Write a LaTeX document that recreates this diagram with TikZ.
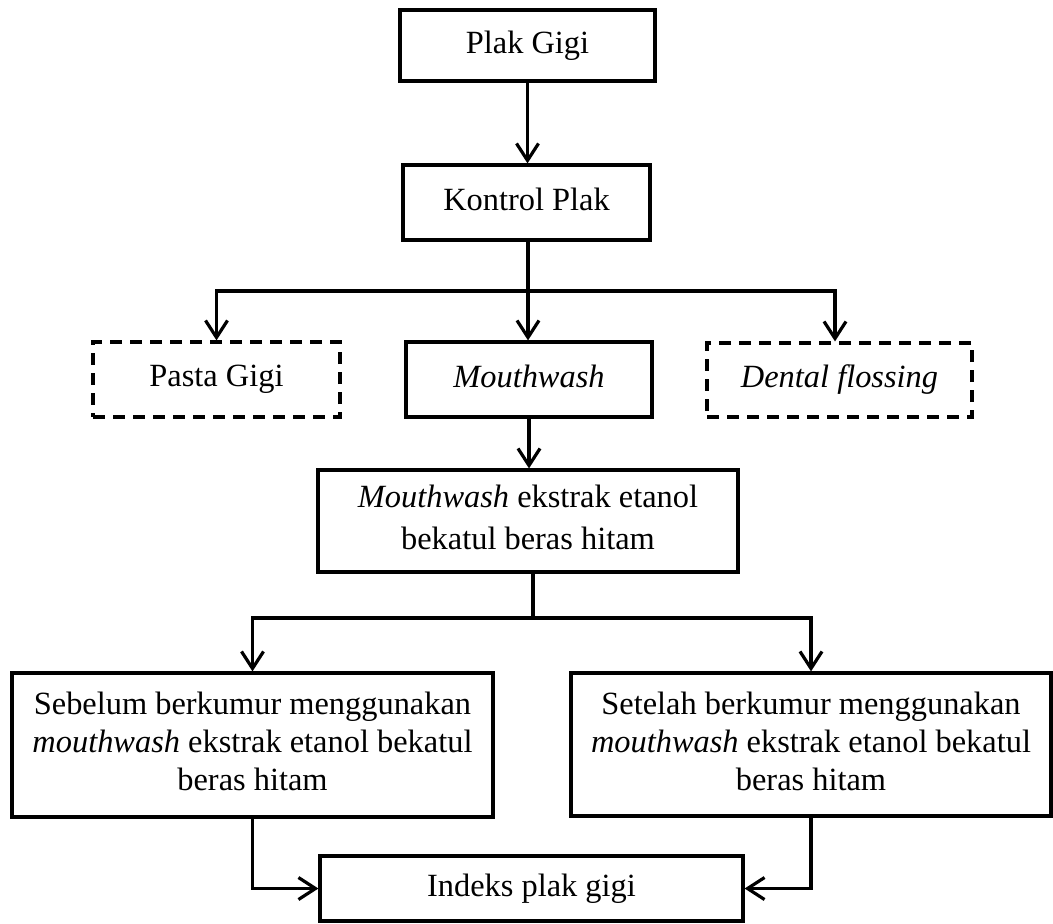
\documentclass[tikz,border=0pt]{standalone}
\usepackage{fontspec}
\setmainfont{Liberation Serif}
\usetikzlibrary{arrows.meta}

\begin{document}
\begin{tikzpicture}[x=0.5pt,y=-0.5pt,
  box/.style={draw,line width=1.6pt,inner sep=0pt,align=center,text depth=3.5pt,font=\fontsize{16.2pt}{19pt}\selectfont},
  dashbox/.style={box,dash pattern=on 6pt off 4pt},
  arr/.style={line width=1.6pt,-{Straight Barb[length=8.5pt,width=11pt]}},
  link/.style={line width=1.6pt}]
\useasboundingbox (0,0) rectangle (1053,923);

\node (plak) [box,minimum width=127.5pt,minimum height=35.5pt] at (527.5,45.5) {Plak Gigi};
\node (kontrol) [box,minimum width=123.5pt,minimum height=37.5pt] at (526.5,202.5) {Kontrol Plak};
\node (pasta) [dashbox,minimum width=123.5pt,minimum height=37.5pt] at (216.5,379.5) {Pasta Gigi};
\node (mouth) [box,minimum width=123pt,minimum height=37.5pt] at (529,379.5) {\textit{Mouthwash}};
\node (dental) [dashbox,minimum width=132.5pt,minimum height=37pt] at (839.5,380) {\textit{Dental flossing}};
\node (ekstrak) [box,minimum width=210pt,minimum height=51pt] at (528,521)
  {\textit{Mouthwash} ekstrak etanol\\[2pt] bekatul beras hitam};
\node (sebelum) [box,minimum width=240.5pt,minimum height=72pt] at (252.5,745)
  {Sebelum berkumur menggunakan\\ \textit{mouthwash} ekstrak etanol bekatul\\ beras hitam};
\node (setelah) [box,minimum width=240pt,minimum height=71.5pt] at (811,744.5)
  {Setelah berkumur menggunakan\\ \textit{mouthwash} ekstrak etanol bekatul\\ beras hitam};
\node (indeks) [box,minimum width=211.5pt,minimum height=32.5pt] at (531.5,888.5) {Indeks plak gigi};

\coordinate (fork1) at (528,291);
\coordinate (fork2) at (533,618);

\draw [arr] (plak.south) -- (plak.south |- kontrol.north);
\draw [link] (fork1 |- kontrol.south) -- (fork1);
\draw [arr] (fork1) -| (pasta.north);
\draw [arr] (fork1) -- (fork1 |- mouth.north);
\draw [arr] (fork1) -| ([xshift=-2.25pt]dental.north);
\draw [arr] (mouth.south) -- (mouth.south |- ekstrak.north);
\draw [link] (fork2 |- ekstrak.south) -- (fork2);
\draw [arr] (fork2) -| (sebelum.north);
\draw [arr] (fork2) -| (setelah.north);
\draw [arr] (sebelum.south) |- (indeks.west);
\draw [arr] (setelah.south) |- (indeks.east);
\end{tikzpicture}
\end{document}
